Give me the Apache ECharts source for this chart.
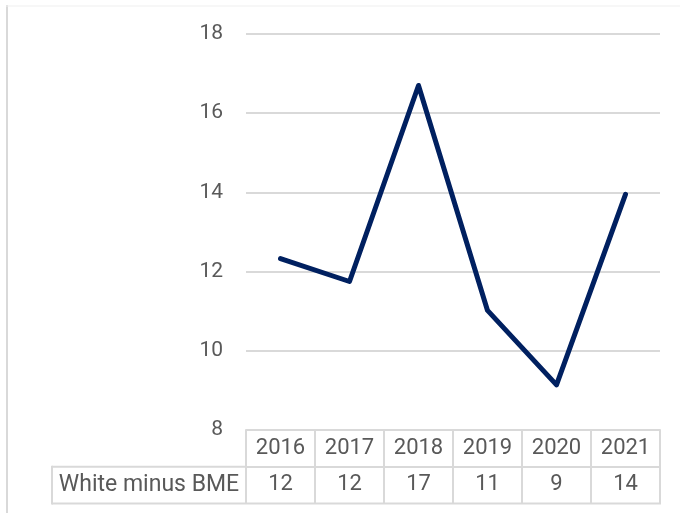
<!DOCTYPE html>
<html>
<head>
<meta charset="utf-8">
<script src="https://cdn.jsdelivr.net/npm/echarts@6/dist/echarts.min.js"></script>
<style>html,body{margin:0;padding:0;background:#fff;}#c{width:680px;height:513px;}</style>
</head>
<body>
<div id="c"></div>
<script>
const years = ['2016','2017','2018','2019','2020','2021'];
const seriesName = 'White minus BME';
const values = [12.33, 11.75, 16.7, 11.02, 9.14, 13.95];
const tableValues = ['12','12','17','11','9','14'];
const yTicks = [8, 10, 12, 14, 16, 18];

const FONT = 'Roboto';
const TXT = '#595959';
const LINE = '#d9d9d9';
const gridL = 246, gridR = 660, gridT = 34, gridB = 430;
const rowH = 36.7;
const FS = 22;

const chart = echarts.init(document.getElementById('c'), null, {renderer: 'canvas'});
chart.setOption({
  animation: false,
  backgroundColor: '#fff',
  grid: {left: gridL, right: 680 - gridR, top: gridT, bottom: 513 - gridB, containLabel: false},
  xAxis: [{
    type: 'category', data: years, position: 'bottom', boundaryGap: true,
    axisLine: {show: true, lineStyle: {color: LINE, width: 2}},
    axisTick: {show: true, length: rowH * 2, lineStyle: {color: LINE, width: 2}},
    axisLabel: {margin: 7, fontSize: FS, color: TXT, fontFamily: FONT},
    splitLine: {show: false}
  }, {
    type: 'category', data: tableValues, position: 'bottom', offset: rowH, boundaryGap: true,
    axisLine: {show: true, lineStyle: {color: LINE, width: 2}},
    axisTick: {show: false},
    axisLabel: {margin: 7, fontSize: FS, color: TXT, fontFamily: FONT},
    splitLine: {show: false}
  }],
  yAxis: {
    type: 'value', min: yTicks[0], max: yTicks[yTicks.length - 1], interval: 2,
    axisLine: {show: false}, axisTick: {show: false},
    axisLabel: {margin: 23, fontSize: 21, color: TXT, fontFamily: FONT},
    splitLine: {show: true, lineStyle: {color: LINE, width: 2}}
  },
  series: [{
    name: seriesName, type: 'line', data: values, xAxisIndex: 0,
    symbol: 'none', smooth: false,
    lineStyle: {color: '#002060', width: 5, cap: 'round', join: 'round'}
  }],
  graphic: [
    {type: 'line', shape: {x1: 7, y1: 5, x2: 7, y2: 513}, style: {stroke: LINE, lineWidth: 2}},
    {type: 'line', shape: {x1: 6, y1: 6, x2: 680, y2: 6}, style: {stroke: '#efefef', lineWidth: 1}},
    {type: 'line', shape: {x1: 52, y1: gridB + rowH, x2: gridL, y2: gridB + rowH}, style: {stroke: LINE, lineWidth: 2}},
    {type: 'line', shape: {x1: 52, y1: gridB + rowH * 2, x2: gridR + 1, y2: gridB + rowH * 2}, style: {stroke: LINE, lineWidth: 2}},
    {type: 'line', shape: {x1: 52, y1: gridB + rowH - 1, x2: 52, y2: gridB + rowH * 2 + 1}, style: {stroke: LINE, lineWidth: 2}},
    {type: 'text', x: (52 + gridL) / 2, y: gridB + rowH * 1.5,
     style: {text: seriesName, font: '23px ' + FONT, fill: TXT, align: 'center', verticalAlign: 'middle'}}
  ]
});
</script>
</body>
</html>
